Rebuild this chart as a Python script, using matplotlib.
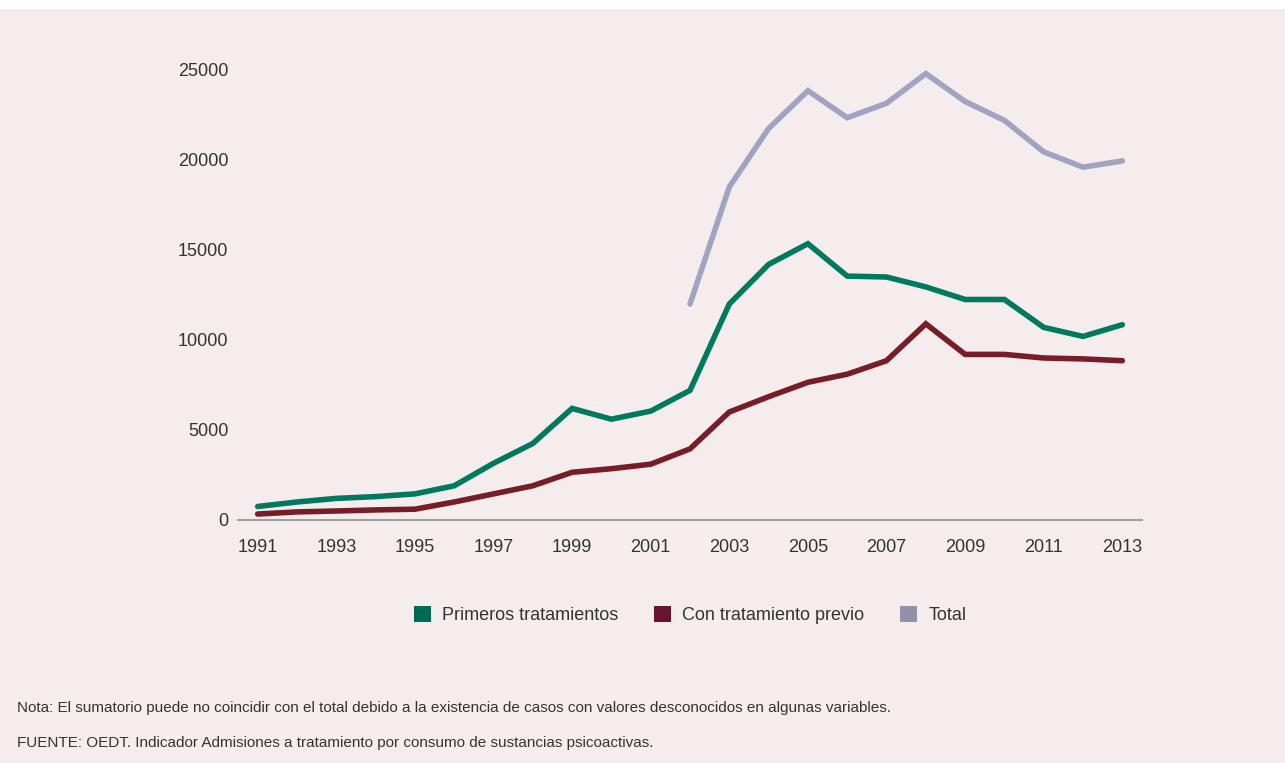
import matplotlib
matplotlib.use("Agg")
import matplotlib.pyplot as plt
from matplotlib.patches import Patch, Rectangle

plt.rcParams['font.family'] = ['Liberation Sans', 'DejaVu Sans']

years = list(range(1991, 2014))
primeros = [750, 1000, 1200, 1300, 1450, 1900, 3150, 4250, 6200, 5600, 6050, 7200,
            12000, 14200, 15350, 13550, 13500, 12950, 12250, 12250, 10700, 10200, 10850]
previo = [330, 450, 500, 560, 600, 1000, 1450, 1900, 2650, 2850, 3100, 3950,
          6000, 6850, 7650, 8100, 8850, 10900, 9200, 9200, 9000, 8950, 8850]
total_years = list(range(2002, 2014))
total = [12000, 18500, 21750, 23850, 22350, 23150, 24800, 23250, 22200, 20450, 19600, 19950]

labels = ['Primeros tratamientos', 'Con tratamiento previo', 'Total']
bg = '#f5ecee'
text_col = '#333333'

fig = plt.figure(figsize=(12.85, 7.63), dpi=100, facecolor='white')
fig.patches.append(Rectangle((0, 0), 1, 1 - 9 / 763, transform=fig.transFigure,
                             facecolor=bg, edgecolor='none', zorder=-10))

ax = fig.add_axes([238 / 1285, 1 - 520 / 763, (1142 - 238) / 1285, (520 - 52) / 763])
ax.set_facecolor(bg)
ax.patch.set_alpha(0)

ax.plot(years, primeros, color='#007a5e', lw=4, solid_capstyle='round', solid_joinstyle='miter')
ax.plot(years, previo, color='#761d27', lw=4, solid_capstyle='round', solid_joinstyle='miter')
ax.plot(total_years, total, color='#a1a4c0', lw=4, solid_capstyle='round', solid_joinstyle='miter')

ax.set_xlim(1990.5, 2013.5)
ax.set_ylim(0, 26000)
ax.set_xticks(range(1991, 2014, 2))
ax.set_yticks(range(0, 25001, 5000))
for s in ['top', 'right', 'left']:
    ax.spines[s].set_visible(False)
ax.spines['bottom'].set_color('#a0a0a0')
ax.spines['bottom'].set_linewidth(1.5)
ax.tick_params(length=0, labelsize=13, labelcolor=text_col)
ax.tick_params(axis='x', pad=14)
ax.tick_params(axis='y', pad=7)

handles = [Patch(facecolor=c, edgecolor='none') for c in ['#006b55', '#68152f', '#9191aa']]
fig.legend(handles, labels, loc='center', bbox_to_anchor=(690 / 1285, 1 - 615 / 763), ncol=3,
           frameon=False, fontsize=13, handlelength=0.95, handleheight=0.95,
           handletextpad=0.6, columnspacing=2.0, labelcolor=text_col)

fig.text(17 / 1285, 1 - 708 / 763, 'Nota: El sumatorio puede no coincidir con el total debido a la existencia de casos con valores desconocidos en algunas variables.',
         fontsize=11, color=text_col, va='center', ha='left')
fig.text(17 / 1285, 1 - 743 / 763, 'FUENTE: OEDT. Indicador Admisiones a tratamiento por consumo de sustancias psicoactivas.',
         fontsize=11, color=text_col, va='center', ha='left')

fig.savefig('out.png', dpi=100, facecolor=fig.get_facecolor())
